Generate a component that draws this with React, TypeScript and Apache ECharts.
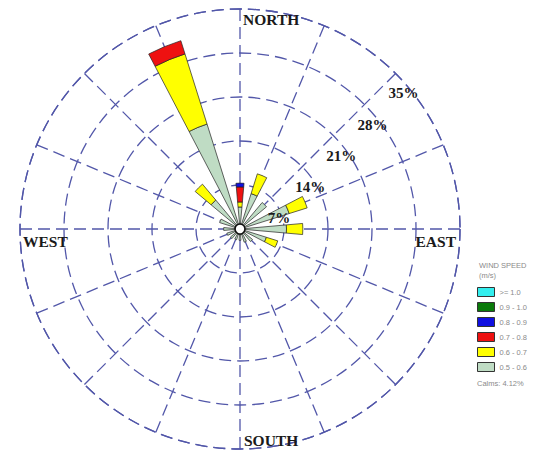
import React, { useEffect, useRef } from 'react';
import * as echarts from 'echarts';

// ---- data ----
const DIRECTIONS = ['N', 'NNE', 'NE', 'ENE', 'E', 'ESE', 'SE', 'SSE', 'S', 'SSW', 'SW', 'WSW', 'W', 'WNW', 'NW', 'NNW'];
const SPEED_LABELS = ['>= 1.0', '0.9 - 1.0', '0.8 - 0.9', '0.7 - 0.8', '0.6 - 0.7', '0.5 - 0.6'];
// frequency (%) per direction for each wind-speed class (m/s)
const FREQ_05_06 = [3.5, 5.9, 5.5, 8.2, 7.4, 4.4, 2.6, 2.2, 1.8, 1.8, 2.0, 2.2, 2.6, 3.4, 6.0, 17.5];
const FREQ_06_07 = [0.8, 3.3, 0, 3.0, 2.6, 1.9, 0, 0, 0, 0, 0, 0, 0, 0, 3.3, 11.7];
const FREQ_07_08 = [2.4, 0, 0, 0, 0, 0, 0, 0, 0, 0, 0, 0, 0, 0, 0, 2.2];
const FREQ_08_09 = [0.6, 0, 0, 0, 0, 0, 0, 0, 0, 0, 0, 0, 0, 0, 0, 0];
const FREQ_09_10 = [0, 0, 0, 0, 0, 0, 0, 0, 0, 0, 0, 0, 0, 0, 0, 0];
const FREQ_10_UP = [0, 0, 0, 0, 0, 0, 0, 0, 0, 0, 0, 0, 0, 0, 0, 0];
const RING_TICKS = [7, 14, 21, 28, 35];
const COMPASS = ['NORTH', 'EAST', 'SOUTH', 'WEST'];
const CALMS_PCT = 4.12;

// ---- layout / style ----
const W = 554;
const H = 453;
const CENTER = [240, 229];
const RADIUS = 220;
const GRID_COLOR = '#5257a9';
const SERIF = '"Liberation Serif", "Times New Roman", serif';
const SANS = '"Liberation Sans", Arial, sans-serif';

export default function App() {
  const ref = useRef<HTMLDivElement>(null);

  useEffect(() => {
    if (!ref.current) return;
    const chart = echarts.init(ref.current, null, { renderer: 'svg' });
    const gridLine = { color: GRID_COLOR, width: 1.3, type: [12, 6] as any };
    const rMax = RING_TICKS[RING_TICKS.length - 1];
    const rStep = RING_TICKS[0];

    const classes = [
      { name: SPEED_LABELS[5], data: FREQ_05_06, color: '#bfdcc4' },
      { name: SPEED_LABELS[4], data: FREQ_06_07, color: '#ffff00' },
      { name: SPEED_LABELS[3], data: FREQ_07_08, color: '#ee1111' },
      { name: SPEED_LABELS[2], data: FREQ_08_09, color: '#1010e0' },
      { name: SPEED_LABELS[1], data: FREQ_09_10, color: '#0a7a0a' },
      { name: SPEED_LABELS[0], data: FREQ_10_UP, color: '#33eeee' },
    ];

    const option: any = {
      animation: false,
      backgroundColor: '#ffffff',
      polar: [
        { center: CENTER, radius: RADIUS },
        { center: CENTER, radius: RADIUS },
      ],
      angleAxis: [
        {
          polarIndex: 0,
          type: 'category',
          data: DIRECTIONS,
          startAngle: 90 + 180 / DIRECTIONS.length,
          clockwise: true,
          axisLine: { show: false },
          axisTick: { show: false },
          axisLabel: { show: false },
          splitLine: { show: false },
        },
        {
          polarIndex: 1,
          type: 'value',
          min: 0,
          max: 360,
          interval: 360 / DIRECTIONS.length,
          startAngle: 90,
          clockwise: true,
          axisLine: { show: true, lineStyle: gridLine },
          axisTick: { show: false },
          axisLabel: { show: false },
          splitLine: { show: true, lineStyle: gridLine },
        },
      ],
      radiusAxis: [
        {
          polarIndex: 0,
          type: 'value',
          min: 0,
          max: rMax,
          axisLine: { show: false },
          axisTick: { show: false },
          axisLabel: { show: false },
          splitLine: { show: false },
        },
        {
          polarIndex: 1,
          type: 'value',
          min: 0,
          max: rMax,
          interval: rStep,
          axisLine: { show: false },
          axisTick: { show: false },
          axisLabel: { show: false },
          splitLine: { show: true, lineStyle: gridLine },
        },
      ],
      legend: {
        data: SPEED_LABELS,
        orient: 'vertical',
        left: 477,
        top: 287,
        padding: 0,
        itemWidth: 17,
        itemHeight: 9,
        itemGap: 5,
        icon: 'rect',
        selectedMode: false,
        textStyle: { fontSize: 7.5, color: '#8a8a8a', fontFamily: SANS, lineHeight: 10 },
        itemStyle: { borderColor: '#333', borderWidth: 1 },
      },
      series: classes.map((c) => ({
        type: 'bar',
        name: c.name,
        coordinateSystem: 'polar',
        polarIndex: 0,
        stack: 'wind',
        barCategoryGap: '55%',
        silent: true,
        data: c.data.map((v) => (v > 0 ? v : null)),
        itemStyle: { color: c.color, borderColor: '#222', borderWidth: 0.7 },
      })),
    };

    chart.setOption(option);

    const toPx = (r: number, a: number) => chart.convertToPixel({ polarIndex: 1 } as any, [r, a]) as number[];
    const graphics: any[] = [];
    RING_TICKS.forEach((t) => {
      const p = toPx(t, 45);
      graphics.push({
        type: 'text',
        z: 50,
        style: {
          text: t + '%',
          x: p[0] + 8,
          y: p[1] + 20,
          fill: '#1a1a1a',
          font: 'bold 15px ' + SERIF,
          align: 'center',
          verticalAlign: 'middle',
          textAlign: 'center',
          textVerticalAlign: 'middle',
        },
      });
    });
    const compassOffsets: Record<string, { a: number; dx: number; dy: number; align: string }> = {
      NORTH: { a: 0, dx: 3, dy: 10, align: 'left' },
      EAST: { a: 90, dx: -4, dy: 12, align: 'right' },
      SOUTH: { a: 180, dx: 4, dy: -9, align: 'left' },
      WEST: { a: 270, dx: 3, dy: 12, align: 'left' },
    };
    COMPASS.forEach((name) => {
      const o = compassOffsets[name];
      const p = toPx(rMax, o.a);
      graphics.push({
        type: 'text',
        z: 50,
        style: {
          text: name,
          x: p[0] + o.dx,
          y: p[1] + o.dy,
          fill: '#1a1a1a',
          font: 'bold 15.5px ' + SERIF,
          align: o.align,
          verticalAlign: 'middle',
          textAlign: o.align,
          textVerticalAlign: 'middle',
        },
      });
    });
    const c0 = toPx(0, 0);
    graphics.push({
      type: 'circle',
      z: 60,
      shape: { cx: c0[0], cy: c0[1], r: 5 },
      style: { fill: '#ffffff', stroke: '#111', lineWidth: 1.6 },
    });
    graphics.push({
      type: 'text',
      z: 50,
      style: {
        text: 'WIND SPEED\n(m/s)',
        x: 479,
        y: 260,
        fill: '#8a8a8a',
        font: '7.5px ' + SANS,
        lineHeight: 10,
      },
    });
    graphics.push({
      type: 'text',
      z: 50,
      style: {
        text: 'Calms: ' + CALMS_PCT.toFixed(2) + '%',
        x: 477,
        y: 383,
        fill: '#8a8a8a',
        font: '7.5px ' + SANS,
        verticalAlign: 'middle',
        textVerticalAlign: 'middle',
      },
    });
    chart.setOption({ graphic: graphics });

    return () => chart.dispose();
  }, []);

  return (
    <div
      ref={ref}
      style={{ position: 'fixed', left: 0, top: 0, width: W, height: H, background: '#fff' }}
    />
  );
}
